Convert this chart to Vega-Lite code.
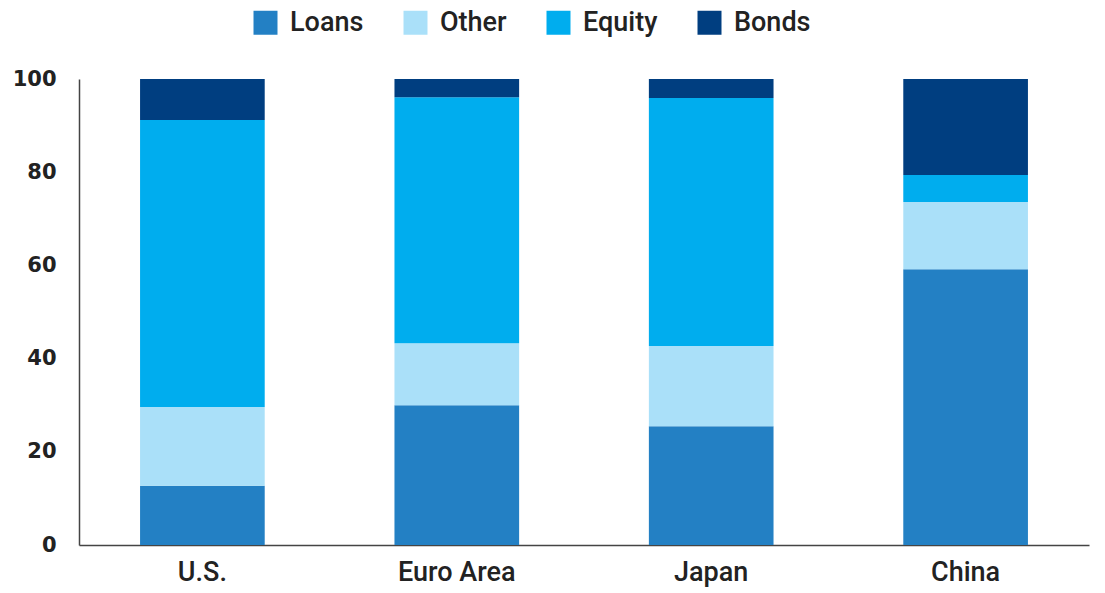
{
  "$schema": "https://vega.github.io/schema/vega-lite/v6.json",
  "width": 1010,
  "height": 466,
  "autosize": {"type": "none"},
  "padding": {"left": 79, "top": 79, "right": 16, "bottom": 48},
  "background": "white",
  "config": {"view": {"stroke": null}},
  "data": {"values": [
    {"region": "U.S.", "type": "Loans", "ord": 1, "value": 12.7},
    {"region": "U.S.", "type": "Other", "ord": 2, "value": 16.9},
    {"region": "U.S.", "type": "Equity", "ord": 3, "value": 61.6},
    {"region": "U.S.", "type": "Bonds", "ord": 4, "value": 8.8},
    {"region": "Euro Area", "type": "Loans", "ord": 1, "value": 30.0},
    {"region": "Euro Area", "type": "Other", "ord": 2, "value": 13.3},
    {"region": "Euro Area", "type": "Equity", "ord": 3, "value": 52.8},
    {"region": "Euro Area", "type": "Bonds", "ord": 4, "value": 3.9},
    {"region": "Japan", "type": "Loans", "ord": 1, "value": 25.5},
    {"region": "Japan", "type": "Other", "ord": 2, "value": 17.2},
    {"region": "Japan", "type": "Equity", "ord": 3, "value": 53.2},
    {"region": "Japan", "type": "Bonds", "ord": 4, "value": 4.1},
    {"region": "China", "type": "Loans", "ord": 1, "value": 59.2},
    {"region": "China", "type": "Other", "ord": 2, "value": 14.4},
    {"region": "China", "type": "Equity", "ord": 3, "value": 5.8},
    {"region": "China", "type": "Bonds", "ord": 4, "value": 20.6}
  ]},
  "mark": {"type": "bar"},
  "encoding": {
    "x": {
      "field": "region", "type": "nominal", "sort": null,
      "scale": {"paddingInner": 0.51, "paddingOuter": 0.24},
      "axis": {"title": null, "labelAngle": 0, "ticks": false, "domainColor": "#444", "domainWidth": 1.5,
               "labelFont": "Roboto", "labelFontSize": 27, "labelFontWeight": 500, "labelColor": "#222", "labelPadding": 14}
    },
    "y": {
      "field": "value", "type": "quantitative", "stack": "zero",
      "scale": {"domain": [0, 100], "nice": false},
      "axis": {"title": null, "values": [0, 20, 40, 60, 80, 100], "ticks": false, "grid": false,
               "domainColor": "#444", "domainWidth": 1.5, "labelFont": "DejaVu Sans", "labelFontSize": 21,
               "labelFontWeight": "bold", "labelColor": "#222", "labelPadding": 23}
    },
    "color": {
      "field": "type", "type": "nominal",
      "scale": {"domain": ["Loans", "Other", "Equity", "Bonds"], "range": ["#2380c4", "#aae0f9", "#00adee", "#003e80"]},
      "legend": {"title": null, "orient": "none", "direction": "horizontal", "legendX": 173, "legendY": -70,
                 "symbolType": "square", "symbolSize": 576, "symbolStrokeWidth": 0, "labelFont": "Roboto",
                 "labelFontSize": 27, "labelFontWeight": 500, "labelColor": "#222", "columnPadding": 38, "labelOffset": 11}
    },
    "order": {"field": "ord", "type": "quantitative"}
  }
}
